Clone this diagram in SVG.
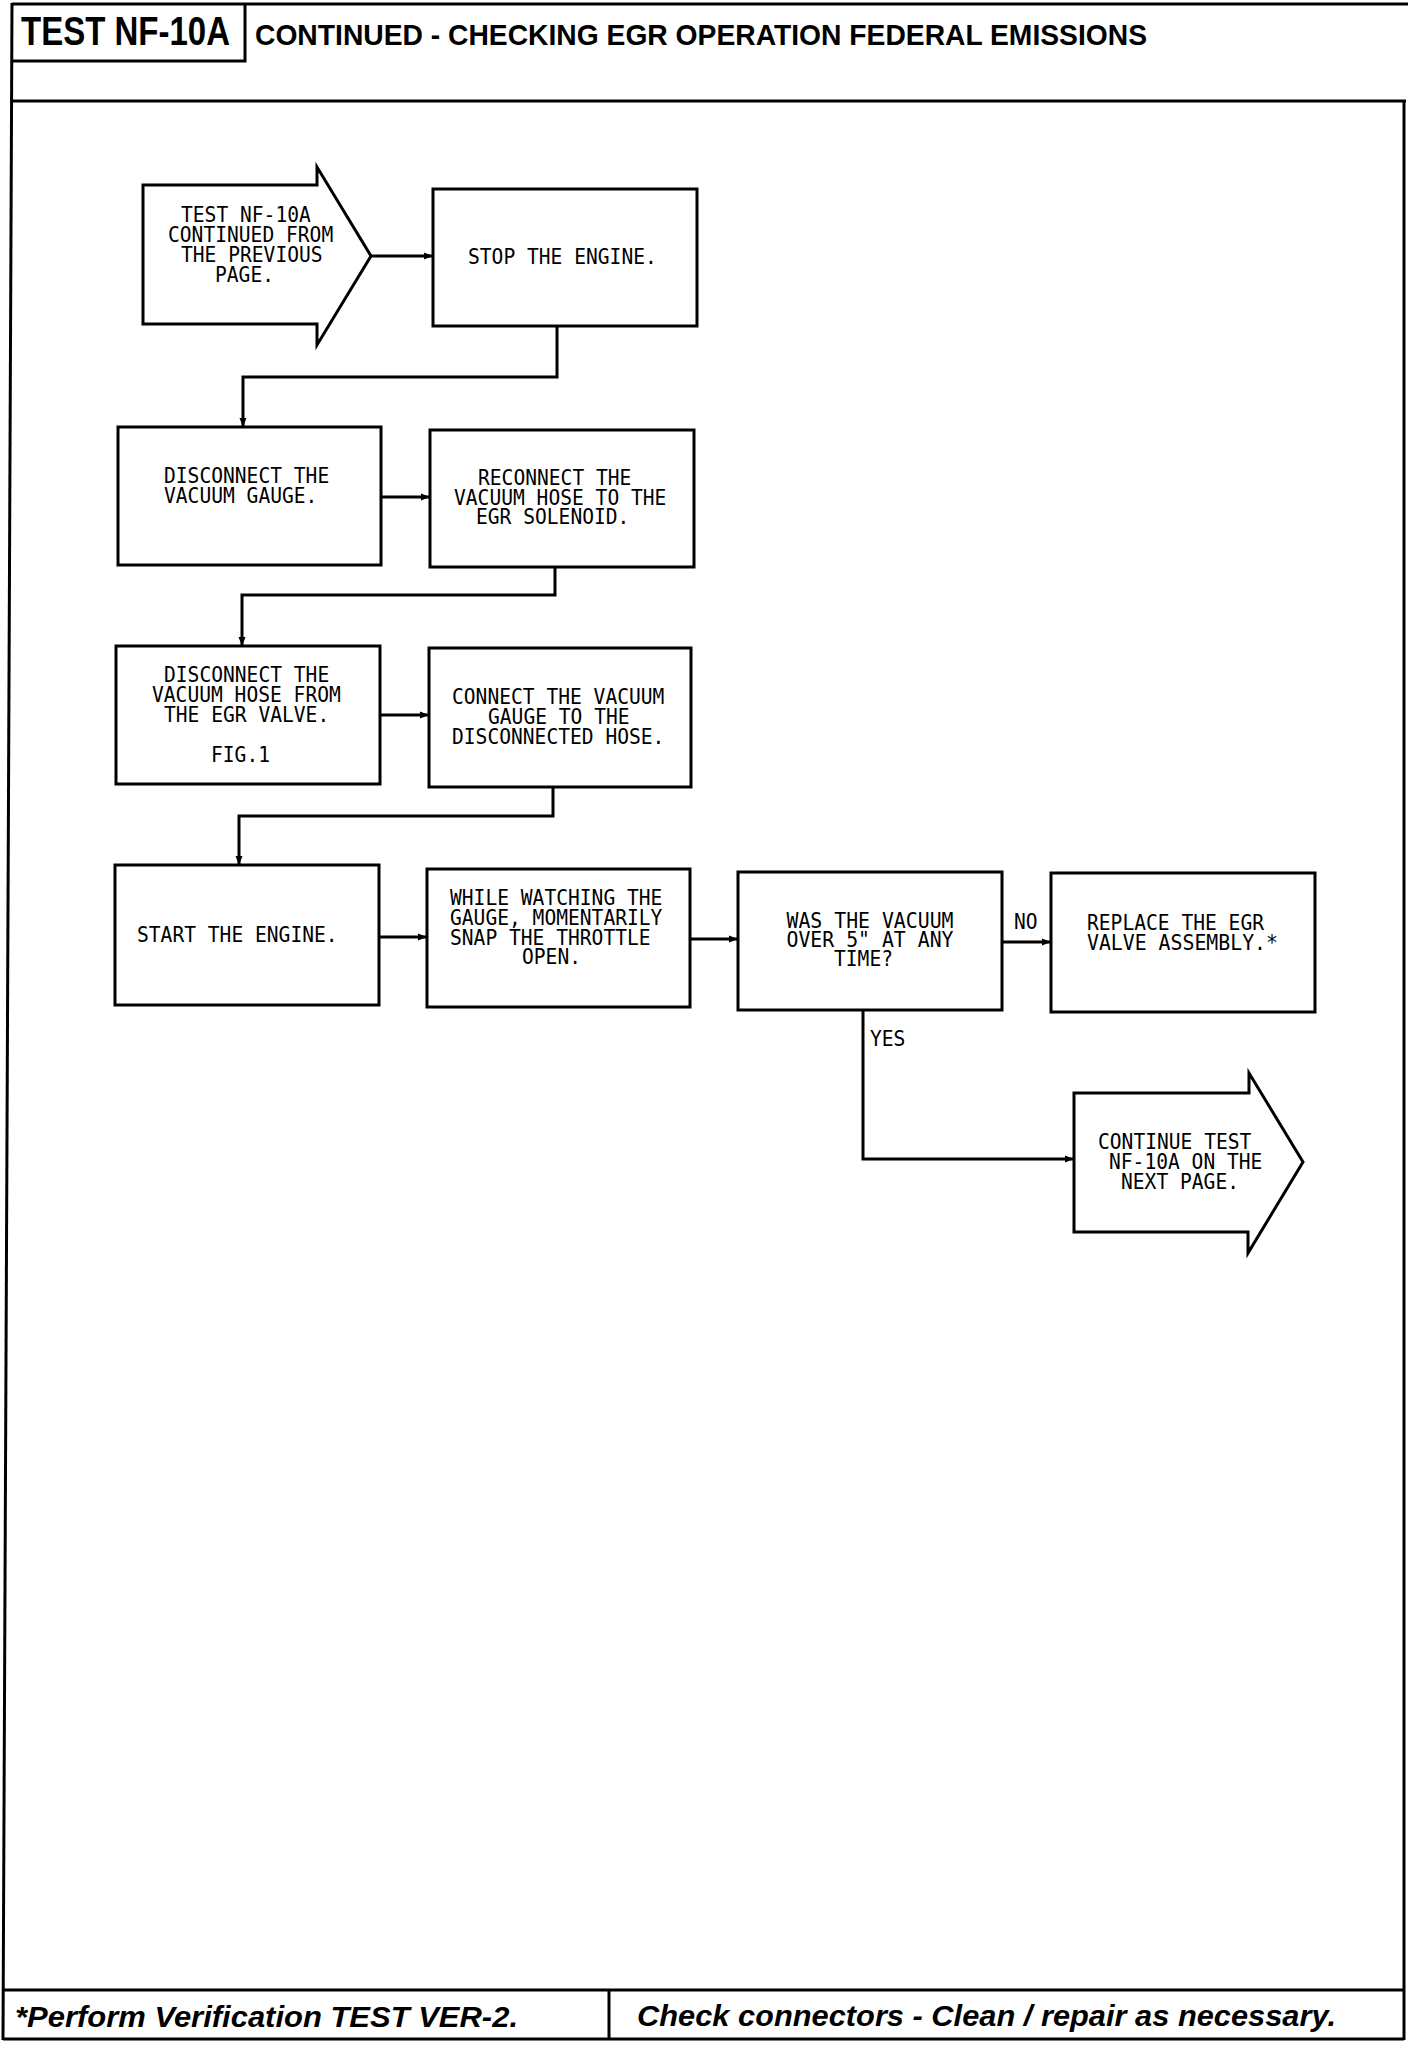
<svg xmlns="http://www.w3.org/2000/svg" width="1408" height="2046" viewBox="0 0 1408 2046">
<style>
.frame{fill:none;stroke:#000;stroke-width:3}
.box{fill:#fff;stroke:#000;stroke-width:3}
.con{fill:none;stroke:#000;stroke-width:3}
.t{font-family:"DejaVu Sans Mono","Liberation Mono",monospace;font-size:21.5px;fill:#000}
.hd{font-family:"Liberation Sans",Arial,sans-serif;font-weight:bold;fill:#000}
.ft{font-family:"Liberation Sans",Arial,sans-serif;font-weight:bold;font-style:italic;font-size:29px;fill:#000}
</style>
<defs>
<marker id="ah" markerUnits="userSpaceOnUse" markerWidth="10" markerHeight="8" refX="9" refY="4" orient="auto">
<path d="M0,0.5 L9,4 L0,7.5 z" fill="#000"/>
</marker>
</defs>
<rect width="1408" height="2046" fill="#fff"/>
<g id="frame">
<path class="frame" d="M12,4 H1408"/>
<path class="frame" d="M12,3 L3,2040"/>
<path class="frame" d="M245,4 V61 H12"/>
<path class="frame" d="M12,101 H1406" stroke-width="4"/>
<path class="frame" d="M1404,101 V2040"/>
<path class="frame" d="M3,1990 H1404"/>
<path class="frame" d="M3,2039 H1404"/>
<path class="frame" d="M609,1990 V2039"/>
<text class="hd" x="21" y="44.5" font-size="40" textLength="209" lengthAdjust="spacingAndGlyphs">TEST NF-10A</text>
<text class="hd" x="255" y="45" font-size="30" textLength="892" lengthAdjust="spacingAndGlyphs">CONTINUED - CHECKING EGR OPERATION FEDERAL EMISSIONS</text>
<text class="ft" x="15" y="2026.5" textLength="503" lengthAdjust="spacingAndGlyphs">*Perform Verification TEST VER-2.</text>
<text class="ft" x="637" y="2026" textLength="699" lengthAdjust="spacingAndGlyphs">Check connectors - Clean / repair as necessary.</text>
</g>
<g id="connectors">
<path class="con" d="M371,256 H433" marker-end="url(#ah)"/>
<path class="con" d="M557,326 V377 H243 V427" marker-end="url(#ah)"/>
<path class="con" d="M381,497 H430" marker-end="url(#ah)"/>
<path class="con" d="M555,567 V595 H242 V646" marker-end="url(#ah)"/>
<path class="con" d="M380,715 H429" marker-end="url(#ah)"/>
<path class="con" d="M553,787 V816 H239 V865" marker-end="url(#ah)"/>
<path class="con" d="M379,937 H427" marker-end="url(#ah)"/>
<path class="con" d="M690,939 H738" marker-end="url(#ah)"/>
<path class="con" d="M1002,942 H1051" marker-end="url(#ah)"/>
<path class="con" d="M863,1010 V1159 H1074" marker-end="url(#ah)"/>
<text class="t" x="1014" y="928.5" textLength="23.6" lengthAdjust="spacingAndGlyphs">NO</text>
<text class="t" x="870" y="1046" textLength="35.4" lengthAdjust="spacingAndGlyphs">YES</text>
</g>
<g id="n1">
<polygon class="box" points="143,185 317,185 317,167 371,256 317,345 317,324 143,324"/>
<text class="t" x="181" y="222" textLength="129.8" lengthAdjust="spacingAndGlyphs">TEST NF-10A</text>
<text class="t" x="168" y="242" textLength="165.2" lengthAdjust="spacingAndGlyphs">CONTINUED FROM</text>
<text class="t" x="181" y="262" textLength="141.6" lengthAdjust="spacingAndGlyphs">THE PREVIOUS</text>
<text class="t" x="215" y="282" textLength="59" lengthAdjust="spacingAndGlyphs">PAGE.</text>
</g>
<g id="n2">
<rect class="box" x="433" y="189" width="264" height="137"/>
<text class="t" x="468" y="264" textLength="188.8" lengthAdjust="spacingAndGlyphs">STOP THE ENGINE.</text>
</g>
<g id="n3">
<rect class="box" x="118" y="427" width="263" height="138"/>
<text class="t" x="164" y="483" textLength="165.2" lengthAdjust="spacingAndGlyphs">DISCONNECT THE</text>
<text class="t" x="164" y="502.5" textLength="153.4" lengthAdjust="spacingAndGlyphs">VACUUM GAUGE.</text>
</g>
<g id="n4">
<rect class="box" x="430" y="430" width="264" height="137"/>
<text class="t" x="478" y="485" textLength="153.4" lengthAdjust="spacingAndGlyphs">RECONNECT THE</text>
<text class="t" x="454" y="504.5" textLength="212.4" lengthAdjust="spacingAndGlyphs">VACUUM HOSE TO THE</text>
<text class="t" x="476" y="523.5" textLength="153.4" lengthAdjust="spacingAndGlyphs">EGR SOLENOID.</text>
</g>
<g id="n5">
<rect class="box" x="116" y="646" width="264" height="138"/>
<text class="t" x="164" y="682" textLength="165.2" lengthAdjust="spacingAndGlyphs">DISCONNECT THE</text>
<text class="t" x="152" y="702" textLength="188.8" lengthAdjust="spacingAndGlyphs">VACUUM HOSE FROM</text>
<text class="t" x="164" y="722" textLength="165.2" lengthAdjust="spacingAndGlyphs">THE EGR VALVE.</text>
<text class="t" x="211" y="762" textLength="59" lengthAdjust="spacingAndGlyphs">FIG.1</text>
</g>
<g id="n6">
<rect class="box" x="429" y="648" width="262" height="139"/>
<text class="t" x="452" y="704" textLength="212.4" lengthAdjust="spacingAndGlyphs">CONNECT THE VACUUM</text>
<text class="t" x="488" y="724" textLength="141.6" lengthAdjust="spacingAndGlyphs">GAUGE TO THE</text>
<text class="t" x="452" y="744" textLength="212.4" lengthAdjust="spacingAndGlyphs">DISCONNECTED HOSE.</text>
</g>
<g id="n7">
<rect class="box" x="115" y="865" width="264" height="140"/>
<text class="t" x="137" y="942" textLength="200.6" lengthAdjust="spacingAndGlyphs">START THE ENGINE.</text>
</g>
<g id="n8">
<rect class="box" x="427" y="869" width="263" height="138"/>
<text class="t" x="450" y="905" textLength="212.4" lengthAdjust="spacingAndGlyphs">WHILE WATCHING THE</text>
<text class="t" x="450" y="925" textLength="212.4" lengthAdjust="spacingAndGlyphs">GAUGE, MOMENTARILY</text>
<text class="t" x="450" y="944.5" textLength="200.6" lengthAdjust="spacingAndGlyphs">SNAP THE THROTTLE</text>
<text class="t" x="522" y="964" textLength="59" lengthAdjust="spacingAndGlyphs">OPEN.</text>
</g>
<g id="n9">
<rect class="box" x="738" y="872" width="264" height="138"/>
<text class="t" x="786.5" y="927.5" textLength="167" lengthAdjust="spacingAndGlyphs">WAS THE VACUUM</text>
<text class="t" x="786.5" y="947" textLength="167" lengthAdjust="spacingAndGlyphs">OVER 5" AT ANY</text>
<text class="t" x="834" y="966" textLength="59" lengthAdjust="spacingAndGlyphs">TIME?</text>
</g>
<g id="n10">
<rect class="box" x="1051" y="873" width="264" height="139"/>
<text class="t" x="1087" y="930" textLength="177" lengthAdjust="spacingAndGlyphs">REPLACE THE EGR</text>
<text class="t" x="1087" y="949.5" textLength="191" lengthAdjust="spacingAndGlyphs">VALVE ASSEMBLY.*</text>
</g>
<g id="n11">
<polygon class="box" points="1074,1093 1249,1093 1249,1073 1303,1162 1248,1253 1248,1232 1074,1232"/>
<text class="t" x="1098" y="1148.5" textLength="153.4" lengthAdjust="spacingAndGlyphs">CONTINUE TEST</text>
<text class="t" x="1109" y="1168.5" textLength="153.4" lengthAdjust="spacingAndGlyphs">NF-10A ON THE</text>
<text class="t" x="1121" y="1188.5" textLength="118" lengthAdjust="spacingAndGlyphs">NEXT PAGE.</text>
</g>
</svg>
